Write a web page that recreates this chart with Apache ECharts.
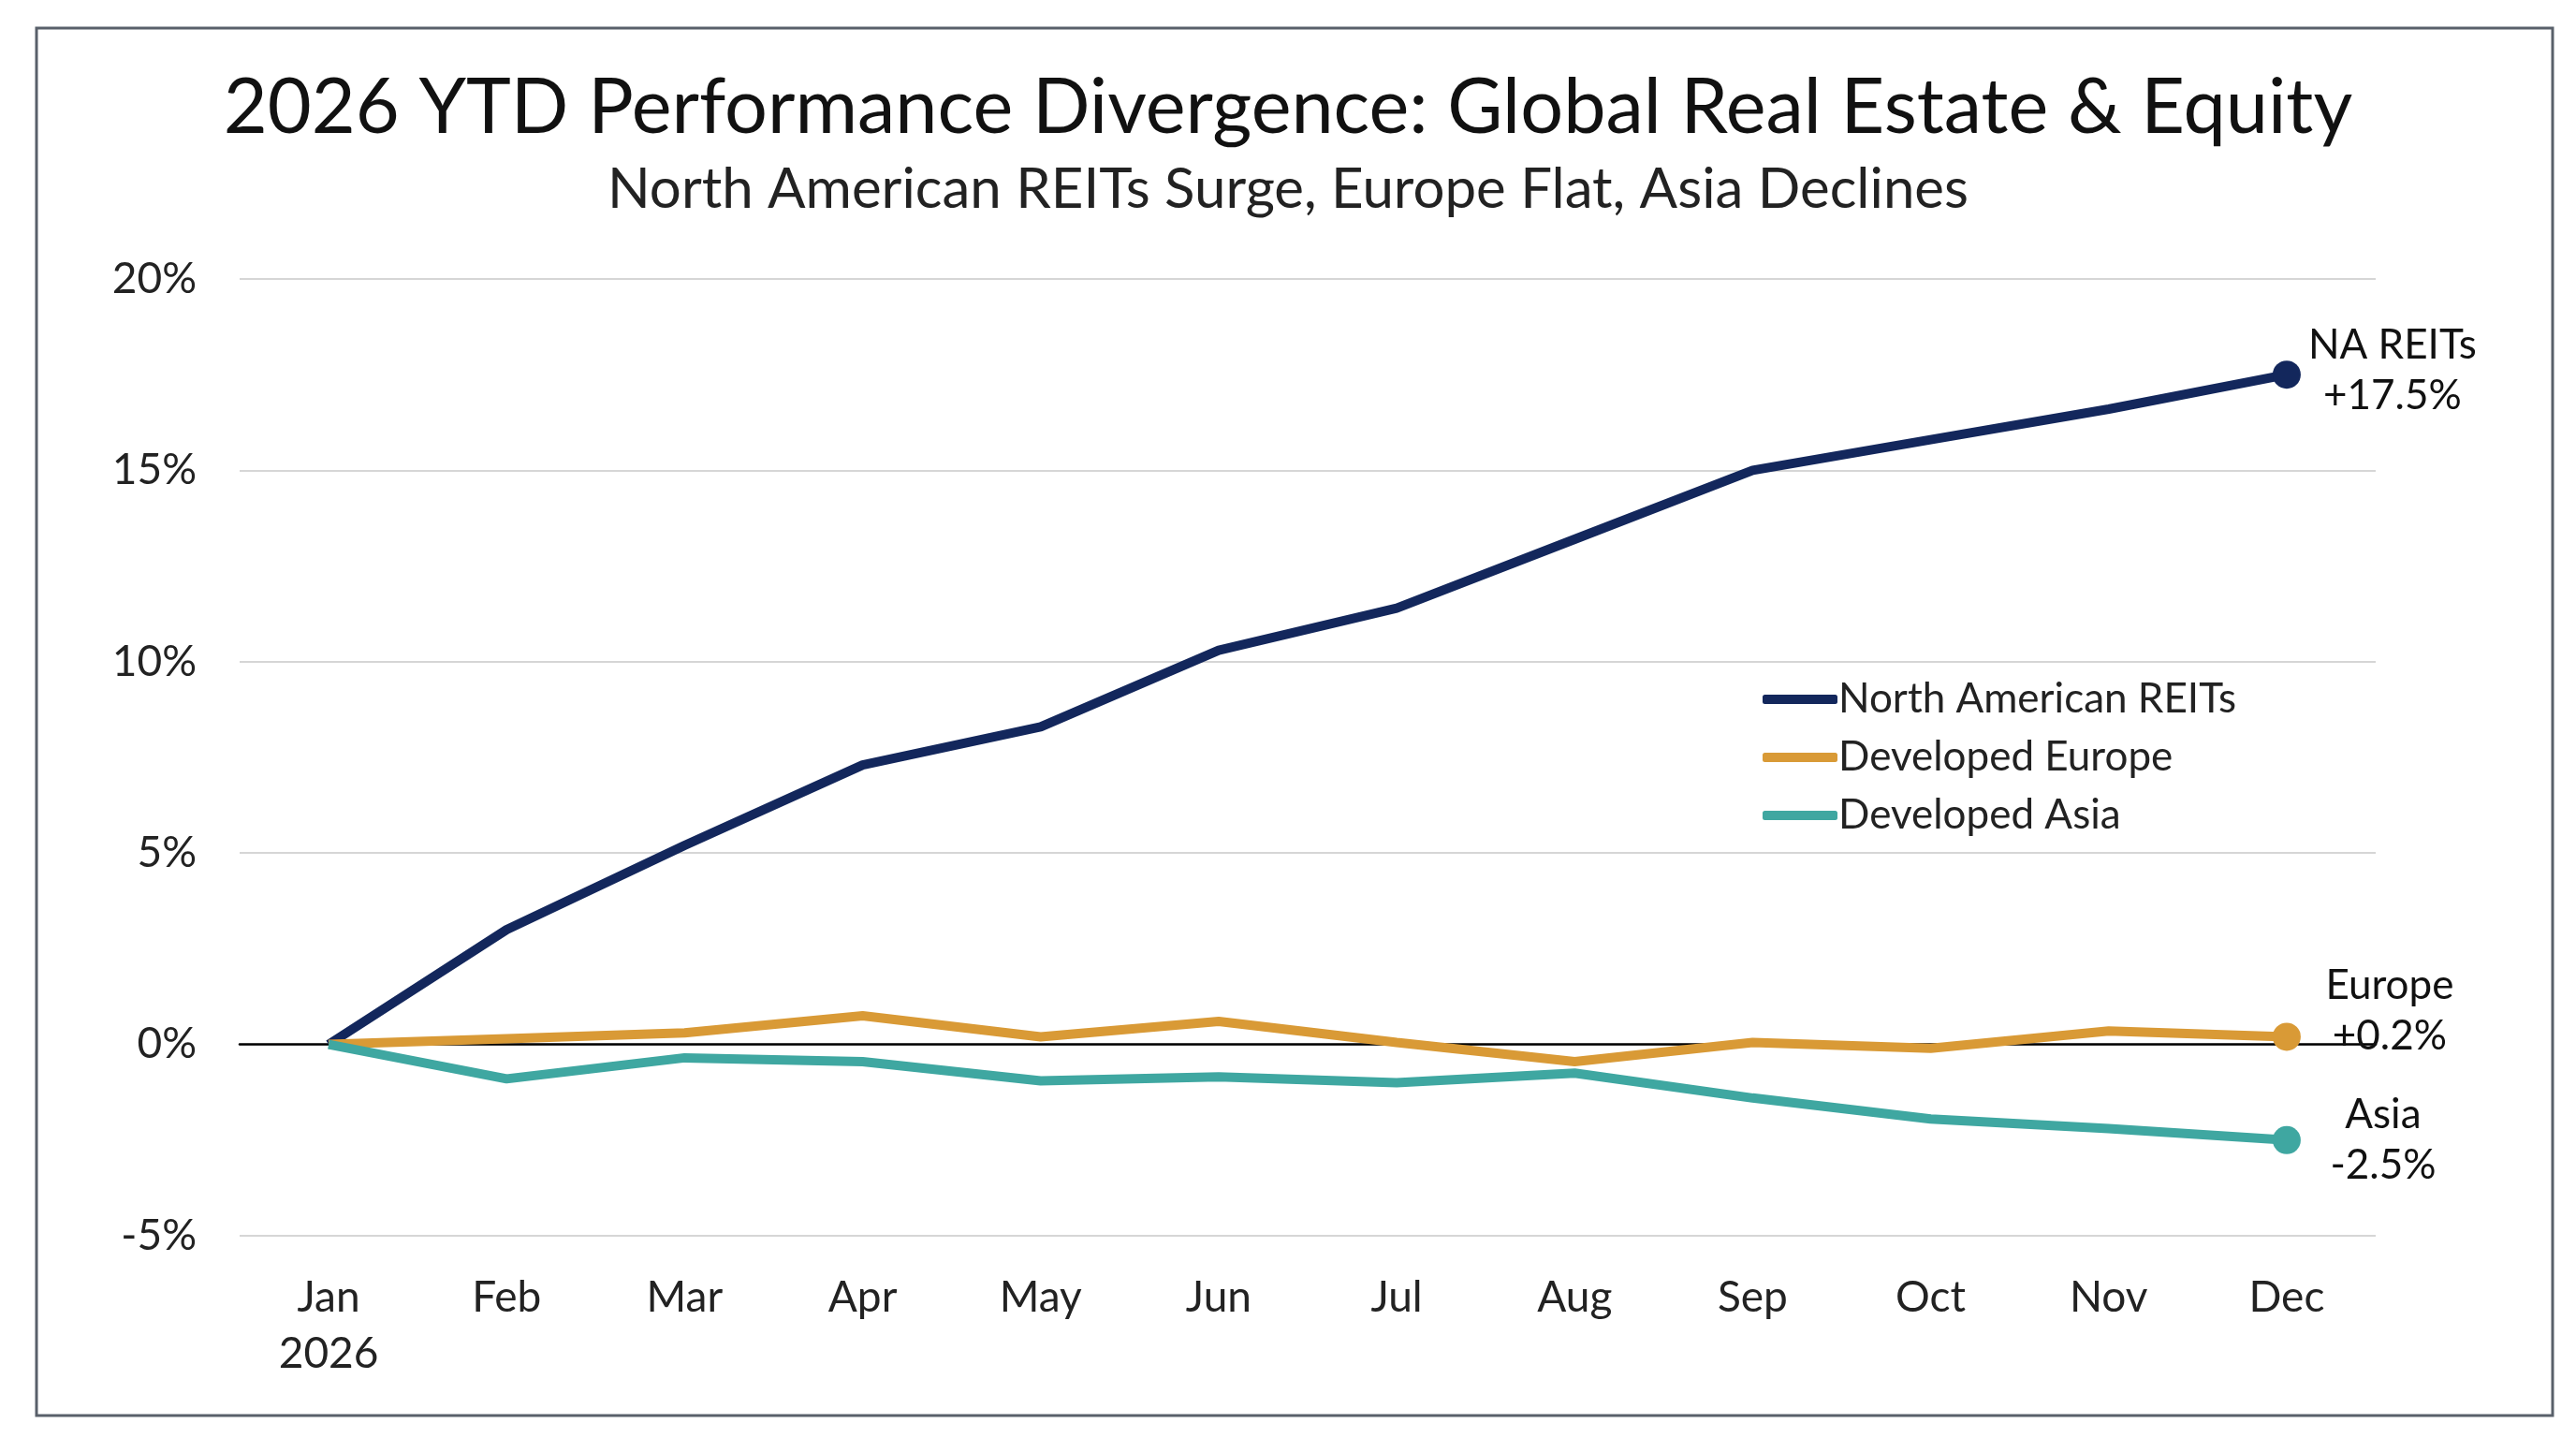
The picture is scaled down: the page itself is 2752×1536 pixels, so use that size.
<!DOCTYPE html>
<html>
<head>
<meta charset="utf-8">
<script src="https://cdn.jsdelivr.net/npm/echarts@6/dist/echarts.min.js"></script>
<style>html,body{margin:0;padding:0;background:#fff}#main{width:2752px;height:1536px}</style>
</head>
<body>
<div id="main"></div>
<script>
// data
var months = ['Jan\n2026', 'Feb', 'Mar', 'Apr', 'May', 'Jun', 'Jul', 'Aug', 'Sep', 'Oct', 'Nov', 'Dec'];
var naReits = [0, 3.0, 5.2, 7.3, 8.3, 10.3, 11.4, 13.2, 15.0, 15.8, 16.6, 17.5];
var devEurope = [0, 0.15, 0.3, 0.75, 0.2, 0.6, 0.05, -0.45, 0.05, -0.1, 0.35, 0.2];
var devAsia = [0, -0.9, -0.35, -0.45, -0.95, -0.85, -1.0, -0.75, -1.4, -1.95, -2.2, -2.5];
var yTicks = [-5, 0, 5, 10, 15, 20];

var FONT = 'Lato, "Noto Sans", sans-serif';
var colors = { na: '#13275c', eu: '#d99a36', as: '#3fa7a1' };

// callouts: index -> [text, offsetY]
var euNotes = { 3: ['0.8%', -46], 7: ['-0.5%', -50] };
var asNotes = { 4: ['-1%', 50], 9: ['-2%', 50] };

function buildData(values, color, notes, endText, endOffset) {
	return values.map(function (v, i) {
		var d = { value: v, symbolSize: 0 };
		if (i === values.length - 1) {
			d.symbolSize = 30;
			d.itemStyle = { color: color };
			d.label = {
				show: true, formatter: endText, position: 'inside', offset: endOffset,
				align: 'center', verticalAlign: 'middle',
				fontSize: 44, lineHeight: 54, color: '#111', fontFamily: FONT
			};
		} else if (notes[i]) {
			d.symbolSize = 1;
			d.itemStyle = { opacity: 0 };
			d.label = {
				show: true, formatter: notes[i][0], position: 'inside', offset: [0, notes[i][1]],
				align: 'center', verticalAlign: 'middle', fontSize: 44, color: '#111', fontFamily: FONT
			};
		}
		return d;
	});
}

function lineSeries(name, color, data) {
	return {
		name: name, type: 'line', color: color, data: data,
		lineStyle: { width: 10 }, symbol: 'circle', showSymbol: true,
		emphasis: { disabled: true }
	};
}

var myChart = echarts.init(document.getElementById('main'));
var option = {
	backgroundColor: '#fff',
	title: [{
		text: '2026 YTD Performance Divergence: Global Real Estate & Equity',
		left: 'center', top: 70,
		textStyle: { fontSize: 81, fontWeight: 'normal', color: '#111', fontFamily: FONT }
	}, {
		text: 'North American REITs Surge, Europe Flat, Asia Declines',
		left: 'center', top: 168,
		textStyle: { fontSize: 60, fontWeight: 'normal', color: '#222', fontFamily: FONT }
	}],
	graphic: [{
		type: 'rect', shape: { x: 39, y: 30, width: 2688, height: 1482 },
		style: { fill: 'none', stroke: '#59606a', lineWidth: 3 }, silent: true
	}],
	legend: {
		orient: 'vertical', left: 1878, top: 720,
		itemWidth: 80, itemHeight: 10, itemGap: 18,
		icon: 'roundRect',
		textStyle: { fontSize: 44, color: '#222', fontFamily: FONT, padding: [0, 0, 0, -4] },
		data: ['North American REITs', 'Developed Europe', 'Developed Asia']
	},
	grid: { left: 256, right: 214, top: 298, bottom: 216, containLabel: false },
	xAxis: {
		type: 'category', data: months, boundaryGap: true,
		axisLine: { onZero: true, lineStyle: { color: '#000', width: 2.5 } },
		axisTick: { show: false },
		axisLabel: { fontSize: 46, color: '#222', fontFamily: FONT, margin: 36, lineHeight: 60 }
	},
	yAxis: {
		type: 'value', min: -5, max: 20, interval: 5,
		axisLine: { show: false }, axisTick: { show: false },
		splitLine: { lineStyle: { color: '#d6d6d6', width: 2 } },
		axisLabel: { fontSize: 46, color: '#222', fontFamily: FONT, margin: 46,
			formatter: function (v) { return yTicks.indexOf(v) >= 0 ? v + '%' : ''; } }
	},
	series: [
		lineSeries('North American REITs', colors.na, buildData(naReits, colors.na, {}, 'NA REITs\n+17.5%', [113, -4])),
		lineSeries('Developed Europe', colors.eu, buildData(devEurope, colors.eu, euNotes, 'Europe\n+0.2%', [110, -28])),
		lineSeries('Developed Asia', colors.as, buildData(devAsia, colors.as, asNotes, 'Asia\n-2.5%', [103, 0]))
	]
};
myChart.setOption(option);
</script>
</body>
</html>
